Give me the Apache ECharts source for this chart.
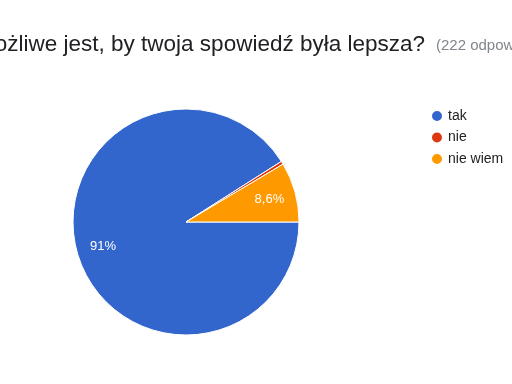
<!DOCTYPE html>
<html>
<head>
<meta charset="utf-8">
<script src="https://cdn.jsdelivr.net/npm/echarts@6/dist/echarts.min.js"></script>
<style>
  html, body { margin: 0; padding: 0; background: #fff; }
  #chart { width: 512px; height: 384px; }
</style>
</head>
<body>
<div id="chart"></div>
<script>
var categories = ["tak", "nie", "nie wiem"];
var counts = [202, 1, 19];
var colors = ["#3366CC", "#DC3912", "#FF9900"];
var titleText = "Czy możliwe jest, by twoja spowiedź była lepsza?";
var subText = "(222 odpowiedzi)";

var total = counts.reduce(function (a, b) { return a + b; }, 0);
var pieData = categories.map(function (c, i) {
  return { name: c, value: counts[i], itemStyle: { color: colors[i] } };
});

function fmtPct(p) {
  var pct = p.value / total * 100;
  if (pct < 5) return "";
  return String(Number(pct.toPrecision(2))).replace(".", ",") + "%";
}

var myChart = echarts.init(document.getElementById("chart"));
var option = {
  animation: false,
  textStyle: { fontFamily: "Liberation Sans" },
  graphic: [
    {
      type: "text",
      right: 87,
      top: 33,
      style: { text: titleText, font: "22.5px 'Liberation Sans'", fill: "#202124" }
    },
    {
      type: "text",
      left: 436,
      top: 38,
      style: { text: subText, font: "15px 'Liberation Sans'", fill: "#80868b" }
    }
  ],
  legend: {
    orient: "vertical",
    left: 425,
    top: 104,
    icon: "circle",
    itemWidth: 12,
    itemHeight: 12,
    itemGap: 7.5,
    textStyle: { fontSize: 14, color: "#222", fontFamily: "Liberation Sans" },
    data: categories
  },
  series: [
    {
      type: "pie",
      center: [186, 222],
      radius: [0, 113],
      startAngle: 0,
      clockwise: true,
      label: { show: false },
      labelLine: { show: false },
      itemStyle: { borderColor: "#fff", borderWidth: 1 },
      data: pieData
    },
    {
      // label-only ring so the texts sit further out than half the radius
      type: "pie",
      silent: true,
      legendHoverLink: false,
      center: [186, 222],
      radius: [54, 113],
      startAngle: 0,
      clockwise: true,
      itemStyle: { color: "rgba(0,0,0,0)" },
      label: {
        show: true,
        position: "inner",
        formatter: fmtPct,
        color: "#fff",
        fontSize: 13,
        fontFamily: "Liberation Sans"
      },
      labelLine: { show: false },
      data: counts.map(function (v, i) { return { name: categories[i] + " ", value: v }; })
    }
  ]
};
myChart.setOption(option);
</script>
</body>
</html>
